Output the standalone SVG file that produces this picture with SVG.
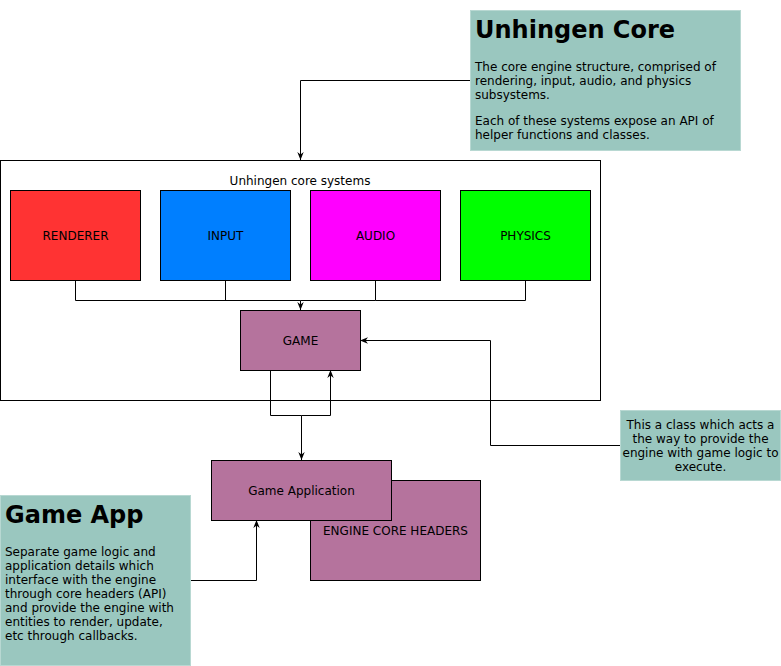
<svg xmlns="http://www.w3.org/2000/svg" width="781" height="666" viewBox="0 0 781 666">
<defs>
<marker id="arr" viewBox="0 0 10 10" refX="10" refY="5" markerWidth="8" markerHeight="8" markerUnits="userSpaceOnUse" orient="auto">
<path d="M0,1 L10,5 L0,9 L3,5 Z" fill="#000"/>
</marker>
<style>
text{font-family:"DejaVu Sans","Liberation Sans",sans-serif;fill:#000;}
.lbl{font-size:12px;text-anchor:middle;}
.box{stroke:#000;stroke-width:1;}
.note{fill:#9AC7BF;stroke:#b8d8d2;stroke-width:1;}
.title{font-size:24px;font-weight:bold;}
.body{font-size:12px;}
.edge{fill:none;stroke:#000;stroke-width:1;}
</style>
</defs>
<rect width="781" height="666" fill="#fff"/>

<g id="core-systems">
<rect class="box" x="0.5" y="160.5" width="600" height="240" fill="#fff"/>
<text class="lbl" x="300" y="185">Unhingen core systems</text>
</g>

<g id="connectors">
<path class="edge" d="M470,80.5 H300.5 V160" marker-end="url(#arr)"/>
<path class="edge" d="M75.5,280 V300.5 H300.5 V310" marker-end="url(#arr)"/>
<path class="edge" d="M225.5,280 V300.5"/>
<path class="edge" d="M375.5,280 V300.5 H300.5"/>
<path class="edge" d="M525.5,280 V300.5 H375.5"/>
<path class="edge" d="M270.5,370 V415.5 H301.5 V460" marker-end="url(#arr)"/>
<path class="edge" d="M301.5,415.5 H330.5 V370" marker-end="url(#arr)"/>
<path class="edge" d="M620,445.5 H490.5 V340.5 H360" marker-end="url(#arr)"/>
<path class="edge" d="M190,580.5 H256.5 V520" marker-end="url(#arr)"/>
</g>

<g id="renderer">
<rect class="box" x="10.5" y="190.5" width="130" height="90" fill="#FF3333"/>
<text class="lbl" x="75.5" y="240">RENDERER</text>
</g>
<g id="input">
<rect class="box" x="160.5" y="190.5" width="130" height="90" fill="#007FFF"/>
<text class="lbl" x="225.5" y="240">INPUT</text>
</g>
<g id="audio">
<rect class="box" x="310.5" y="190.5" width="130" height="90" fill="#FF00FF"/>
<text class="lbl" x="375.5" y="240">AUDIO</text>
</g>
<g id="physics">
<rect class="box" x="460.5" y="190.5" width="130" height="90" fill="#00FF00"/>
<text class="lbl" x="525.5" y="240">PHYSICS</text>
</g>
<g id="game">
<rect class="box" x="240.5" y="310.5" width="120" height="60" fill="#B5739D"/>
<text class="lbl" x="300.5" y="345">GAME</text>
</g>
<g id="engine-core-headers">
<rect class="box" x="310.5" y="480.5" width="170" height="100" fill="#B5739D"/>
<text class="lbl" x="395.5" y="535">ENGINE CORE HEADERS</text>
</g>
<g id="game-application">
<rect class="box" x="211.5" y="460.5" width="180" height="60" fill="#B5739D"/>
<text class="lbl" x="301.5" y="495">Game Application</text>
</g>

<g id="note-core">
<rect class="note" x="470.5" y="10.5" width="270" height="140"/>
<text class="title" x="475" y="38">Unhingen Core</text>
<text class="body" x="475" y="71">The core engine structure, comprised of</text>
<text class="body" x="475" y="85">rendering, input, audio, and physics</text>
<text class="body" x="475" y="99">subsystems.</text>
<text class="body" x="475" y="125">Each of these systems expose an API of</text>
<text class="body" x="475" y="139">helper functions and classes.</text>
</g>

<g id="note-game-app">
<rect class="note" x="0.5" y="495.5" width="190" height="170"/>
<text class="title" x="5" y="523">Game App</text>
<text class="body" x="5" y="556">Separate game logic and</text>
<text class="body" x="5" y="570">application details which</text>
<text class="body" x="5" y="584">interface with the engine</text>
<text class="body" x="5" y="598">through core headers (API)</text>
<text class="body" x="5" y="612">and provide the engine with</text>
<text class="body" x="5" y="626">entities to render, update,</text>
<text class="body" x="5" y="640">etc through callbacks.</text>
</g>

<g id="note-game-class">
<rect class="note" x="620.5" y="410.5" width="160" height="70"/>
<text class="lbl" x="700.5" y="429">This a class which acts a</text>
<text class="lbl" x="700.5" y="443">the way to provide the</text>
<text class="lbl" x="700.5" y="457">engine with game logic to</text>
<text class="lbl" x="700.5" y="471">execute.</text>
</g>
</svg>
